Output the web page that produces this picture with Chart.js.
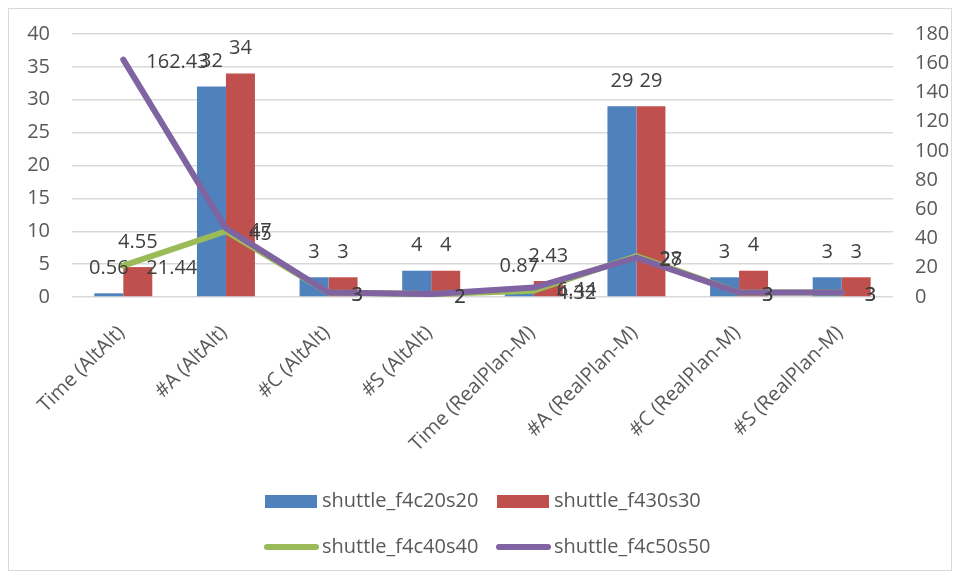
<!DOCTYPE html>
<html>
<head>
<meta charset="utf-8">
<script src="https://cdn.jsdelivr.net/npm/chart.js@4/dist/chart.umd.min.js"></script>
<style>
  html, body { margin: 0; padding: 0; background: #ffffff; }
  #wrap { position: relative; width: 959px; height: 577px; }
  #frame { position: absolute; left: 8px; top: 8px; width: 942px; height: 561px; border: 1px solid #d9d9d9; pointer-events: none; }
  canvas { position: absolute; left: 0; top: 0; }
</style>
</head>
<body>
<div id="wrap">
  <canvas id="c" width="959" height="577"></canvas>
  <div id="frame"></div>
</div>
<script>
const categories = ["Time (AltAlt)", "#A (AltAlt)", "#C (AltAlt)", "#S (AltAlt)", "Time (RealPlan-M)", "#A (RealPlan-M)", "#C (RealPlan-M)", "#S (RealPlan-M)"];
const seriesNames = ["shuttle_f4c20s20", "shuttle_f430s30", "shuttle_f4c40s40", "shuttle_f4c50s50"];
const f4c20s20 = [0.56, 32, 3, 4, 0.87, 29, 3, 3];
const f430s30 = [4.55, 34, 3, 4, 2.43, 29, 4, 3];
const f4c40s40 = [21.44, 45, 3, 2, 4.32, 28, 3, 3];
const f4c50s50 = [162.43, 47, 3, 2, 6.44, 27, 3, 3];
const leftTicks = [0, 5, 10, 15, 20, 25, 30, 35, 40];
const rightTicks = [0, 20, 40, 60, 80, 100, 120, 140, 160, 180];

const colors = ["#4F81BD", "#C0504D", "#9BBB59", "#8064A2"];
const FONT = '"Open Sans", "Liberation Sans", sans-serif';

const dataLabels = {
  id: 'dataLabels',
  afterDatasetsDraw(chart) {
    const ctx = chart.ctx;
    ctx.save();
    ctx.font = '20px ' + FONT;
    ctx.fillStyle = '#404040';
    ctx.textBaseline = 'middle';
    chart.data.datasets.forEach((ds, i) => {
      const meta = chart.getDatasetMeta(i);
      meta.data.forEach((el, j) => {
        const v = String(ds.data[j]);
        if (ds.type === 'bar') {
          ctx.textAlign = 'center';
          ctx.fillText(v, el.x, el.y - 25);
        } else {
          ctx.textAlign = 'left';
          ctx.fillText(v, el.x + 23, el.y + 3);
        }
      });
    });
    ctx.restore();
  }
};

const customLegend = {
  id: 'customLegend',
  afterDraw(chart) {
    const ctx = chart.ctx;
    ctx.save();
    ctx.font = '20px ' + FONT;
    ctx.fillStyle = '#595959';
    ctx.textBaseline = 'middle';
    ctx.textAlign = 'left';
    const pos = [
      {x: 265, y: 501}, {x: 497, y: 501},
      {x: 265, y: 547}, {x: 497, y: 547}
    ];
    chart.data.datasets.forEach((ds, i) => {
      const p = pos[i];
      if (ds.type === 'bar') {
        ctx.fillStyle = ds.backgroundColor;
        ctx.fillRect(p.x, p.y - 6, 52, 13);
      } else {
        ctx.strokeStyle = ds.borderColor;
        ctx.lineWidth = 6;
        ctx.lineCap = 'round';
        ctx.beginPath();
        ctx.moveTo(p.x + 2, p.y);
        ctx.lineTo(p.x + 51, p.y);
        ctx.stroke();
      }
      ctx.fillStyle = '#595959';
      ctx.fillText(ds.label, p.x + 57, p.y);
    });
    ctx.restore();
  }
};

new Chart(document.getElementById('c'), {
  data: {
    labels: categories,
    datasets: [
      { type: 'bar', label: seriesNames[0], data: f4c20s20, backgroundColor: colors[0], yAxisID: 'y', order: 2, barPercentage: 1, categoryPercentage: 0.565 },
      { type: 'bar', label: seriesNames[1], data: f430s30, backgroundColor: colors[1], yAxisID: 'y', order: 3, barPercentage: 1, categoryPercentage: 0.565 },
      { type: 'line', label: seriesNames[2], data: f4c40s40, borderColor: colors[2], backgroundColor: colors[2], borderWidth: 6, pointRadius: 0, tension: 0, yAxisID: 'y1', order: 1, borderJoinStyle: 'round', borderCapStyle: 'round' },
      { type: 'line', label: seriesNames[3], data: f4c50s50, borderColor: colors[3], backgroundColor: colors[3], borderWidth: 6, pointRadius: 0, tension: 0, yAxisID: 'y1', order: 0, borderJoinStyle: 'round', borderCapStyle: 'round' }
    ]
  },
  options: {
    responsive: false,
    animation: false,
    devicePixelRatio: 1,
    layout: { padding: { top: 34, left: 0, right: 0, bottom: 0 } },
    plugins: { legend: { display: false }, tooltip: { enabled: false } },
    scales: {
      x: {
        grid: { display: false, drawTicks: false },
        border: { display: false },
        ticks: { autoSkip: false, minRotation: 45, maxRotation: 45, padding: 24, labelOffset: -2, color: '#595959', font: { family: FONT, size: 20 } },
        afterFit(scale) { scale.height = 280; }
      },
      y: {
        position: 'left',
        min: 0, max: 40,
        afterBuildTicks(scale) { scale.ticks = leftTicks.map(v => ({ value: v })); },
        grid: { color: '#d9d9d9', lineWidth: 1.5, drawTicks: false },
        border: { display: false },
        ticks: { padding: 22, color: '#595959', font: { family: FONT, size: 20 } },
        afterFit(scale) { scale.width = 72; }
      },
      y1: {
        position: 'right',
        min: 0, max: 180,
        afterBuildTicks(scale) { scale.ticks = rightTicks.map(v => ({ value: v })); },
        grid: { display: false, drawTicks: false },
        border: { display: false },
        ticks: { padding: 22, color: '#595959', font: { family: FONT, size: 20 } },
        afterFit(scale) { scale.width = 66; }
      }
    }
  },
  plugins: [dataLabels, customLegend]
});
</script>
</body>
</html>
